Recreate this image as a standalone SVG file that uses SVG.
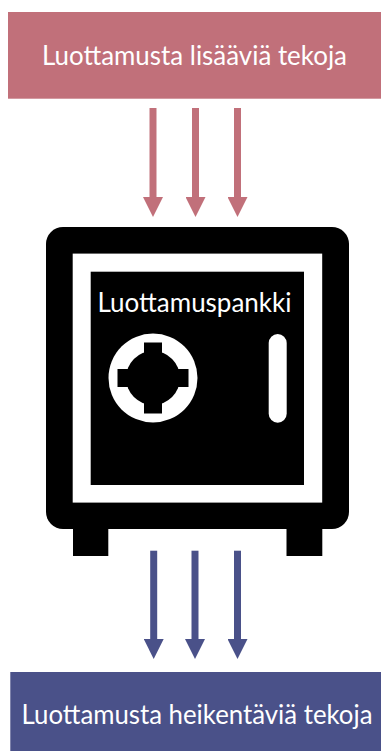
<svg xmlns="http://www.w3.org/2000/svg" width="381" height="751" viewBox="0 0 381 751">
<style>
.lbl{font-family:"Lato","Open Sans",sans-serif;fill:#fff;font-size:26px;font-weight:400}
.up{stroke:#c1707a;stroke-width:7;fill:none}
.dn{stroke:#4a5189;stroke-width:7;fill:none}
.blk{fill:#000}
.wht{fill:#fff}
</style>
<defs>
<marker id="headUp" markerUnits="userSpaceOnUse" markerWidth="20" markerHeight="20" viewBox="0 0 20 20" refX="0" refY="10" orient="auto"><path d="M0 0L20 10L0 20Z" fill="#c1707a"/></marker>
<marker id="headDn" markerUnits="userSpaceOnUse" markerWidth="20" markerHeight="20" viewBox="0 0 20 20" refX="0" refY="10" orient="auto"><path d="M0 0L20 10L0 20Z" fill="#4a5189"/></marker>
</defs>
<rect width="381" height="751" fill="#fff"/>
<g id="node-lisaavia">
<rect x="8" y="12" width="373" height="86.7" fill="#c1707a"/>
<text class="lbl" x="42" y="65" textLength="305" lengthAdjust="spacingAndGlyphs">Luottamusta lisääviä tekoja</text>
</g>
<g id="node-safe">
<rect class="blk" x="73" y="525" width="35.3" height="31"/>
<rect class="blk" x="286.5" y="525" width="35.8" height="31"/>
<rect class="blk" x="46" y="227" width="303" height="302" rx="17"/>
<rect class="wht" x="72.7" y="253.6" width="249.5" height="249"/>
<rect class="blk" x="90.7" y="271.7" width="213.3" height="213.3"/>
<circle class="wht" cx="153" cy="378" r="44.5"/>
<circle class="blk" cx="153" cy="378" r="27"/>
<rect class="blk" x="144" y="342.5" width="18" height="71"/>
<rect class="blk" x="117.5" y="369" width="71" height="18"/>
<rect class="wht" x="268.7" y="334" width="18" height="88.7" rx="9"/>
<text class="lbl" x="97.5" y="312" textLength="194" lengthAdjust="spacingAndGlyphs">Luottamuspankki</text>
</g>
<g id="node-heikentavia">
<rect x="10.3" y="672" width="370.7" height="79" fill="#4a5189"/>
<text class="lbl" x="21.5" y="724" textLength="351" lengthAdjust="spacingAndGlyphs">Luottamusta heikentäviä tekoja</text>
</g>
<g id="connectors">
<line class="up" x1="153" y1="108" x2="153" y2="197" marker-end="url(#headUp)"/>
<line class="up" x1="195.5" y1="108" x2="195.5" y2="197" marker-end="url(#headUp)"/>
<line class="up" x1="237.5" y1="108" x2="237.5" y2="197" marker-end="url(#headUp)"/>
<line class="dn" x1="153.7" y1="550.7" x2="153.7" y2="639" marker-end="url(#headDn)"/>
<line class="dn" x1="195" y1="550.7" x2="195" y2="639" marker-end="url(#headDn)"/>
<line class="dn" x1="237.5" y1="550.7" x2="237.5" y2="639" marker-end="url(#headDn)"/>
</g>
</svg>
